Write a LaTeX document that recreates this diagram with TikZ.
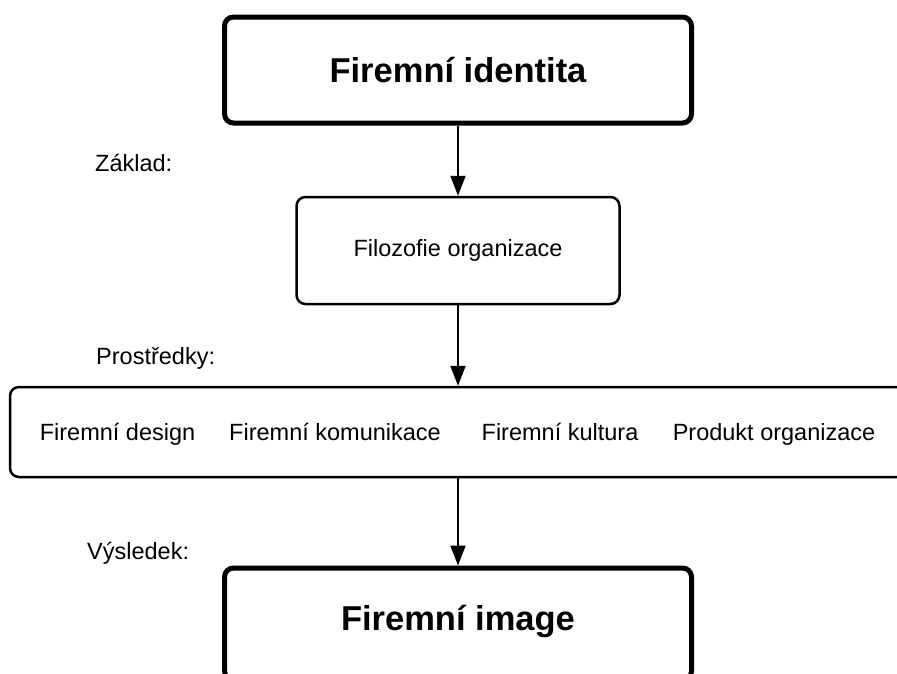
\documentclass[tikz,border=0pt]{standalone}
\usepackage{fontspec}
\setmainfont{Liberation Sans}
\usetikzlibrary{arrows.meta,positioning}

\tikzset{
    mainbox/.style={draw, line width=5pt, rounded corners=9pt, minimum width=467pt, minimum height=106pt, inner sep=0pt, font=\fontsize{34.5}{40}\selectfont\bfseries},
    midbox/.style={draw, line width=2.5pt, rounded corners=9pt, minimum width=323pt, minimum height=107pt, inner sep=0pt, font=\fontsize{23.5}{28}\selectfont},
    meansbox/.style={draw, line width=2.5pt, rounded corners=9pt, minimum width=896pt, minimum height=90pt},
    item/.style={anchor=base, inner sep=0pt, font=\fontsize{23.5}{28}\selectfont},
    lbl/.style={anchor=west, inner sep=0pt, font=\fontsize{23.5}{28}\selectfont},
    arr/.style={line width=2pt, -{Triangle[length=20pt,width=15pt]}}
}

\begin{document}
\begin{tikzpicture}[x=1pt,y=-1pt]
    \clip (0,0) rectangle (897,673);
    % Identity and its basis
    \node[mainbox] (identity) at (458,70) {Firemní identita};
    \node[lbl] (basislbl) at (95,163) {Základ:};
    \node[midbox] (philosophy) at (458,250.5) {Filozofie organizace};
    
    % Means
    \node[lbl] (meanslbl) at (96,358) {Prostředky:};
    \node[meansbox] (means) at (458,432) {};
    \foreach \name/\x/\txt in {design/117.5/Firemní design, comm/335/Firemní komunikace, culture/560/Firemní kultura, product/774/Produkt organizace} {
        \node[item] (\name) at (\x,440) {\txt};
    }
    
    % Result
    \node[lbl] (resultlbl) at (87,553) {Výsledek:};
    \node[mainbox] (image) at (458,624) [minimum height=112pt, text depth=12pt] {Firemní image};
    
    \draw[arr] (identity) -- (philosophy);
    \draw[arr] (philosophy) -- (means);
    \draw[arr] (means) -- (image);
\end{tikzpicture}
\end{document}
